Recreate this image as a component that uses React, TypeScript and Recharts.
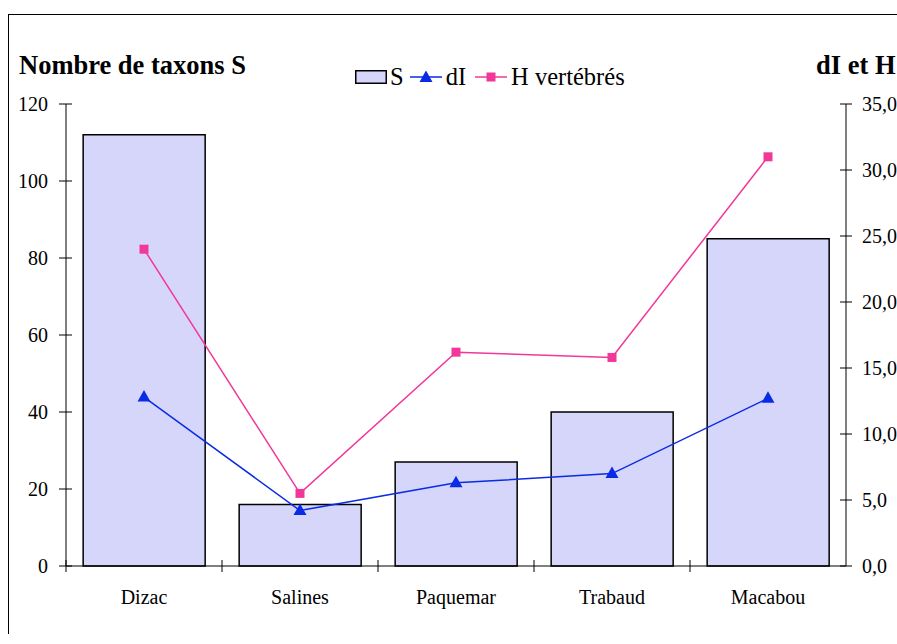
import { Bar, ComposedChart, Line, XAxis, YAxis } from "recharts";

const SITES = ["Dizac", "Salines", "Paquemar", "Trabaud", "Macabou"];
const TAXA_S = [112, 16, 27, 40, 85];
const DI_VALUES = [12.8, 4.2, 6.3, 7.0, 12.7];
const H_VERTEBRES = [24.0, 5.5, 16.2, 15.8, 31.0];
const LEFT_TICKS = [0, 20, 40, 60, 80, 100, 120];
const RIGHT_TICKS = [0, 5, 10, 15, 20, 25, 30, 35];

const BAR_FILL = "#d5d6fa";
const BLUE = "#0a2be6";
const PINK = "#f2379a";
const FONT = '"Liberation Serif", "Times New Roman", serif';

const data = SITES.map((site, i) => ({
  site,
  S: TAXA_S[i],
  dI: DI_VALUES[i],
  H: H_VERTEBRES[i],
}));

const Triangle = ({ cx, cy }: any) => (
  <path
    d={`M${cx},${cy - 7} L${cx + 6.5},${cy + 4.5} L${cx - 6.5},${cy + 4.5} Z`}
    fill={BLUE}
  />
);

const Square = ({ cx, cy }: any) => (
  <rect x={cx - 4.5} y={cy - 4.5} width={9} height={9} fill={PINK} />
);

const LeftTick = ({ x, y, payload }: any) => {
  const ax = x + 18;
  return (
    <g>
      <line x1={ax - 7} x2={ax + 6} y1={y} y2={y} stroke="#000" />
      <text x={x} y={y} dy="0.35em" textAnchor="end" fontSize={20} fill="#000" fontFamily={FONT}>
        {payload.value}
      </text>
    </g>
  );
};

const RightTick = ({ x, y, payload }: any) => {
  const ax = x - 16;
  return (
    <g>
      <line x1={ax - 6} x2={ax + 6} y1={y} y2={y} stroke="#000" />
      <text x={x} y={y} dy="0.35em" textAnchor="start" fontSize={20} fill="#000" fontFamily={FONT}>
        {payload.value.toFixed(1).replace(".", ",")}
      </text>
    </g>
  );
};

const BottomTick = ({ x, y, payload }: any) => {
  const ay = y - 22;
  const half = payload.offset ?? 78;
  return (
    <g>
      <line x1={x - half} x2={x - half} y1={ay - 6} y2={ay + 6} stroke="#000" />
      <text x={x} y={y} dy="0.8em" textAnchor="middle" fontSize={20} fill="#000" fontFamily={FONT}>
        {payload.value}
      </text>
    </g>
  );
};

export default function App() {
  return (
    <div
      style={{
        position: "relative",
        width: 888,
        height: 620,
        marginLeft: 8,
        paddingTop: 14,
        fontFamily: FONT,
        color: "#000",
      }}
    >
      <style>{`html,body{margin:0;overflow:hidden}`}</style>
      <div
        style={{
          position: "absolute",
          left: 0,
          top: 14,
          width: 889,
          height: 620,
          borderTop: "1px solid #000",
          borderLeft: "1px solid #000",
          boxSizing: "border-box",
        }}
      />
      <div
        style={{
          position: "absolute",
          left: 11,
          top: 52,
          fontSize: 26.5,
          lineHeight: 1,
          fontWeight: "bold",
          whiteSpace: "nowrap",
        }}
      >
        Nombre de taxons S
      </div>
      <div
        style={{
          position: "absolute",
          left: 808,
          top: 52,
          fontSize: 26.5,
          lineHeight: 1,
          fontWeight: "bold",
          whiteSpace: "nowrap",
        }}
      >
        dI et H
      </div>
      <div
        style={{
          position: "absolute",
          left: 347,
          top: 65,
          height: 24,
          display: "flex",
          alignItems: "center",
          fontSize: 24.5,
          lineHeight: 1,
          whiteSpace: "nowrap",
        }}
      >
        <svg width={32} height={14}>
          <rect x={0.75} y={0.75} width={30.5} height={12.5} fill={BAR_FILL} stroke="#000" strokeWidth={1.5} />
        </svg>
        <span style={{ marginLeft: 3 }}>S</span>
        <svg width={32} height={14} style={{ marginLeft: 6 }}>
          <line x1={0} x2={32} y1={7} y2={7} stroke={BLUE} strokeWidth={1.5} />
          <Triangle cx={16} cy={7.5} />
        </svg>
        <span style={{ marginLeft: 4 }}>dI</span>
        <svg width={32} height={14} style={{ marginLeft: 9 }}>
          <line x1={0} x2={32} y1={7} y2={7} stroke={PINK} strokeWidth={1.5} />
          <Square cx={16} cy={7} />
        </svg>
        <span style={{ marginLeft: 4 }}>H vertébrés</span>
      </div>
      <div style={{ position: "absolute", left: 1, top: 15 }}>
        <ComposedChart
          width={888}
          height={610}
          data={data}
          margin={{ top: 89, right: 11, bottom: 19, left: 0 }}
          barCategoryGap="11%"
        >
          <XAxis
            dataKey="site"
            height={40}
            axisLine={{ stroke: "#000" }}
            tickLine={false}
            tickSize={6}
            tickMargin={16}
            tick={<BottomTick />}
            interval={0}
          />
          <YAxis
            yAxisId="left"
            orientation="left"
            width={57}
            domain={[0, 120]}
            ticks={LEFT_TICKS}
            axisLine={{ stroke: "#000" }}
            tickLine={false}
            tickSize={7}
            tickMargin={11}
            tick={<LeftTick />}
            interval={0}
          />
          <YAxis
            yAxisId="right"
            orientation="right"
            width={40}
            domain={[0, 35]}
            ticks={RIGHT_TICKS}
            axisLine={{ stroke: "#000" }}
            tickLine={false}
            tickSize={6}
            tickMargin={10}
            tick={<RightTick />}
            interval={0}
          />
          <Bar
            yAxisId="left"
            dataKey="S"
            fill={BAR_FILL}
            stroke="#000"
            strokeWidth={1.5}
            isAnimationActive={false}
          />
          <Line
            yAxisId="right"
            dataKey="dI"
            stroke={BLUE}
            strokeWidth={1.5}
            dot={<Triangle />}
            activeDot={false}
            isAnimationActive={false}
          />
          <Line
            yAxisId="right"
            dataKey="H"
            stroke={PINK}
            strokeWidth={1.5}
            dot={<Square />}
            activeDot={false}
            isAnimationActive={false}
          />
        </ComposedChart>
      </div>
    </div>
  );
}
